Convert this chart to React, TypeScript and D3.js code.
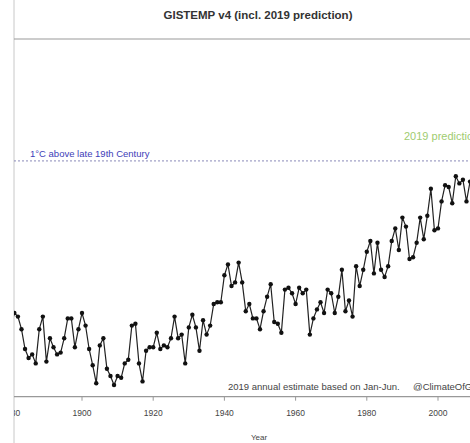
import React from "react";
import * as d3 from "d3";

// GISTEMP v4 annual anomalies (°C, vs 1951-1980)
const years: number[] = d3.range(1880, 2020);
const anomalies: number[] = [
  -0.16, -0.08, -0.10, -0.17, -0.28, -0.33, -0.31, -0.36, -0.17, -0.10,
  -0.35, -0.22, -0.27, -0.31, -0.30, -0.22, -0.11, -0.11, -0.27, -0.17,
  -0.08, -0.15, -0.28, -0.37, -0.47, -0.26, -0.22, -0.39, -0.43, -0.48,
  -0.43, -0.44, -0.36, -0.34, -0.15, -0.14, -0.36, -0.46, -0.29, -0.27,
  -0.27, -0.19, -0.28, -0.26, -0.27, -0.22, -0.10, -0.22, -0.20, -0.36,
  -0.16, -0.09, -0.16, -0.29, -0.12, -0.20, -0.15, -0.03, -0.02, -0.02,
  0.13, 0.19, 0.07, 0.09, 0.20, 0.09, -0.07, -0.03, -0.11, -0.11,
  -0.17, -0.07, 0.01, 0.08, -0.13, -0.14, -0.19, 0.05, 0.06, 0.03,
  -0.03, 0.06, 0.03, 0.05, -0.20, -0.11, -0.06, -0.02, -0.08, 0.05,
  0.03, -0.08, 0.01, 0.16, -0.07, -0.01, -0.10, 0.18, 0.07, 0.16,
  0.26, 0.32, 0.14, 0.31, 0.16, 0.12, 0.18, 0.32, 0.39, 0.27,
  0.45, 0.40, 0.22, 0.23, 0.31, 0.45, 0.33, 0.46, 0.61, 0.38,
  0.39, 0.54, 0.63, 0.62, 0.53, 0.68, 0.64, 0.66, 0.54, 0.65,
  0.72, 0.61, 0.65, 0.68, 0.75, 0.90, 1.01, 0.92, 0.85, 0.95,
];
const xTicks: number[] = [1880, 1900, 1920, 1940, 1960, 1980, 2000];
const oneDegreeLevel = 0.765;

const W = 470;
const H = 443;

export default function App() {
  const x = d3.scaleLinear().domain([1880, 2020]).range([10.8, 10.8 + 140 * 3.56]);
  const y = d3.scaleLinear().domain([-0.545, 1.444]).range([396.7, 38.7]);
  const pts = years.map((yr, i) => ({ yr, v: anomalies[i] }));
  const line = d3
    .line<{ yr: number; v: number }>()
    .x((d) => x(d.yr))
    .y((d) => y(d.v));
  const font = "'Liberation Sans', Arial, sans-serif";
  const axisY = y(-0.545);
  return (
    <svg
      width={W}
      height={H}
      style={{ position: "absolute", left: 0, top: 0, background: "#fff" }}
      fontFamily={font}
    >
      <defs>
        <clipPath id="plot">
          <rect x={14} y={39} width={W - 14} height={axisY - 39} />
        </clipPath>
        <clipPath id="page">
          <rect x={14} y={0} width={W - 14} height={H} />
        </clipPath>
      </defs>
      <rect x={0} y={0} width={W} height={H} fill="#fff" />
      <line x1={14} x2={14} y1={0} y2={H} stroke="#c8c8c8" strokeWidth={1} />
      <text x={258} y={19} textAnchor="middle" fontSize={11.5} fontWeight="bold" fill="#333">
        GISTEMP v4 (incl. 2019 prediction)
      </text>
      <line x1={14} x2={W} y1={39} y2={39} stroke="#999" strokeWidth={1.2} />
      {/* 1°C line */}
      <line
        x1={14}
        x2={W}
        y1={y(oneDegreeLevel)}
        y2={y(oneDegreeLevel)}
        stroke="#8a8ab8"
        strokeWidth={1}
        strokeDasharray="2,2"
      />
      <text x={30} y={157} fontSize={9.5} fill="#4040b8">
        1°C above late 19th Century
      </text>
      <text x={404} y={140} fontSize={11} fill="#a0cc70">
        2019 prediction
      </text>
      <g clipPath="url(#plot)">
        <path d={line(pts) ?? ""} fill="none" stroke="#222" strokeWidth={1.2} />
        {pts.map((d) => (
          <circle key={d.yr} cx={x(d.yr)} cy={y(d.v)} r={2.2} fill="#111" />
        ))}
      </g>
      <text x={228} y={390} fontSize={9.5} fill="#444">
        2019 annual estimate based on Jan-Jun.
      </text>
      <text x={413} y={390} fontSize={9.5} fill="#444">
        @ClimateOfGavin
      </text>
      {/* x axis */}
      <line x1={14} x2={W} y1={axisY} y2={axisY} stroke="#999" strokeWidth={1.2} />
      <g clipPath="url(#page)">
        {xTicks.map((t) => (
          <g key={t}>
            <line x1={x(t)} x2={x(t)} y1={axisY} y2={axisY + 4} stroke="#999" strokeWidth={1} />
            <text x={x(t)} y={416} textAnchor="middle" fontSize={8.5} fill="#444">
              {t}
            </text>
          </g>
        ))}
      </g>
      <text x={259} y={440} textAnchor="middle" fontSize={8} fill="#444">
        Year
      </text>
    </svg>
  );
}
